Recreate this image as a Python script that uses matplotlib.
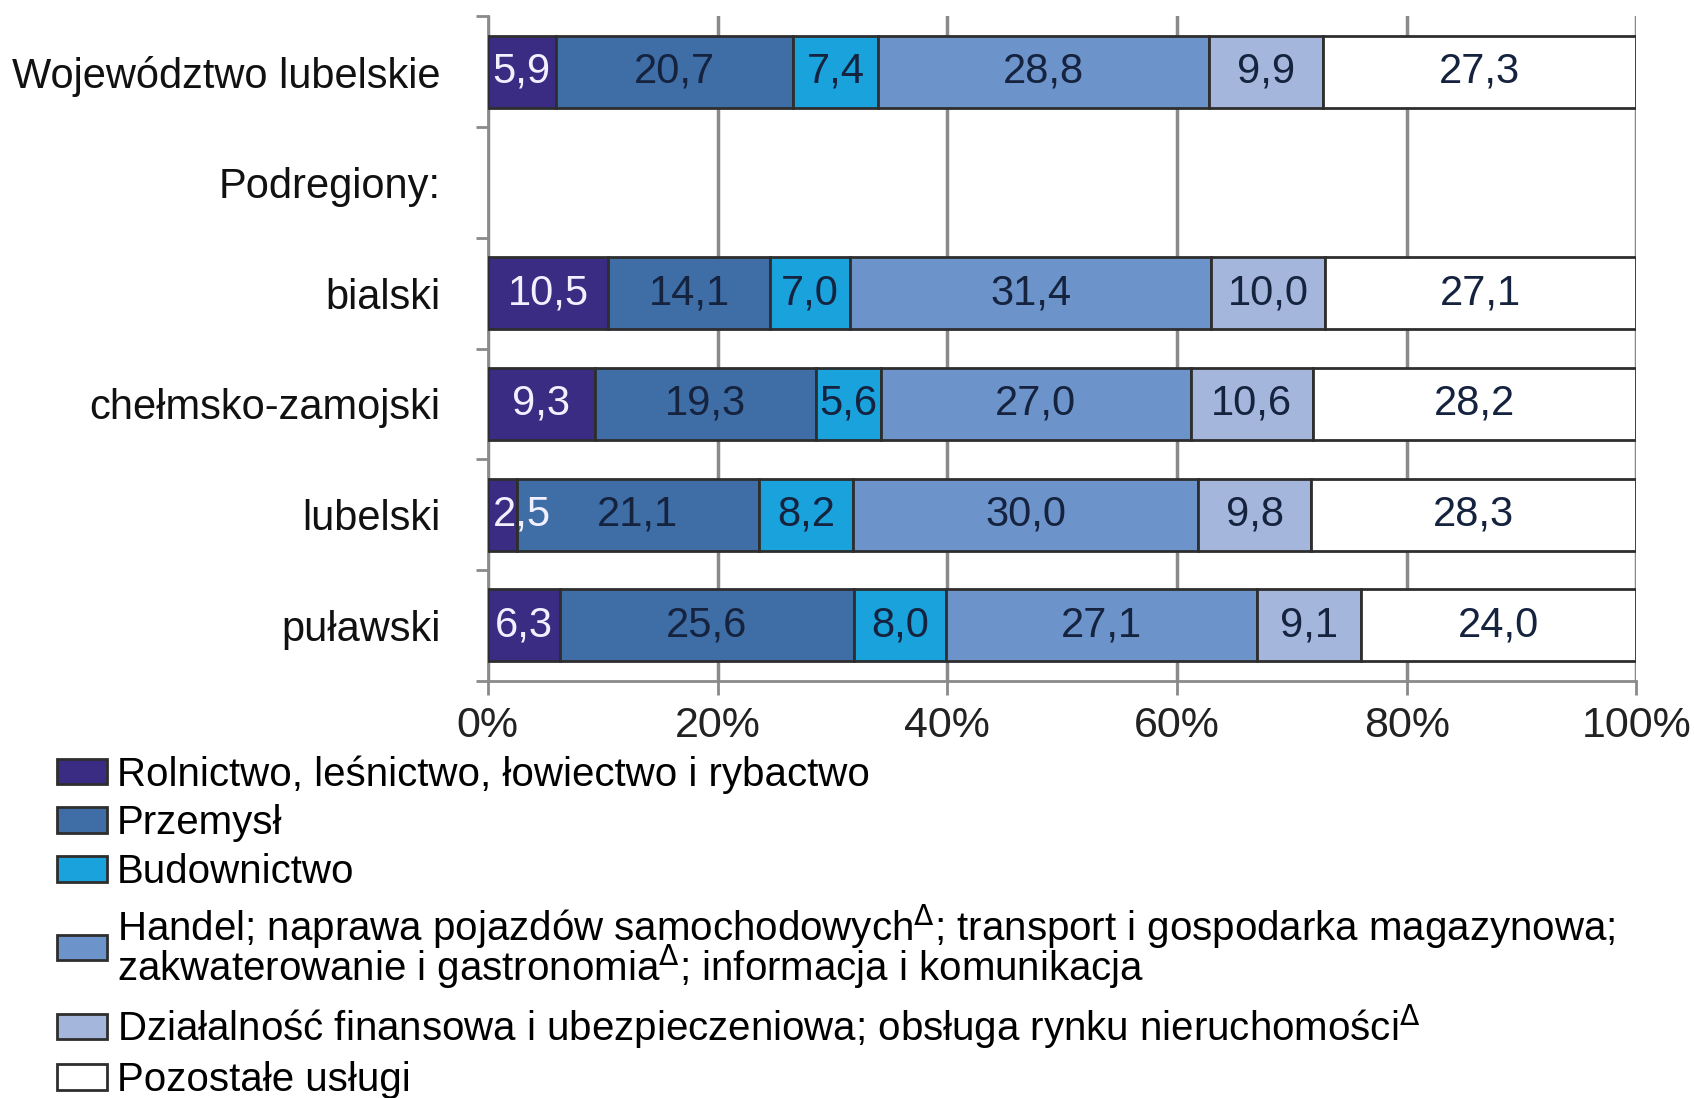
import numpy as np
import matplotlib
matplotlib.use("Agg")
import matplotlib.pyplot as plt
from matplotlib.patches import Patch

plt.rcParams['font.family'] = ['Liberation Sans', 'DejaVu Sans']

categories = ["Województwo lubelskie", "Podregiony:", "bialski",
              "chełmsko-zamojski", "lubelski", "puławski"]
series_names = [
    "Rolnictwo, leśnictwo, łowiectwo i rybactwo",
    "Przemysł",
    "Budownictwo",
    "Handel; naprawa pojazdów samochodowych$^{\\Delta}$; transport i gospodarka magazynowa;\n"
    "zakwaterowanie i gastronomia$^{\\Delta}$; informacja i komunikacja",
    "Działalność finansowa i ubezpieczeniowa; obsługa rynku nieruchomości$^{\\Delta}$",
    "Pozostałe usługi",
]
rolnictwo = [5.9, np.nan, 10.5, 9.3, 2.5, 6.3]
przemysl = [20.7, np.nan, 14.1, 19.3, 21.1, 25.6]
budownictwo = [7.4, np.nan, 7.0, 5.6, 8.2, 8.0]
handel = [28.8, np.nan, 31.4, 27.0, 30.0, 27.1]
finanse = [9.9, np.nan, 10.0, 10.6, 9.8, 9.1]
pozostale = [27.3, np.nan, 27.1, 28.2, 28.3, 24.0]
xticklabels = ["0%", "20%", "40%", "60%", "80%", "100%"]

colors = ["#3a2c82", "#3f6da6", "#19a2dc", "#6d93cb", "#a4b6dc", "#ffffff"]
text_colors = ["#f2f0ff", "#15233f", "#15233f", "#15233f", "#15233f", "#15233f"]

data = np.array([rolnictwo, przemysl, budownictwo, handel, finanse, pozostale], dtype=float)
totals = np.nansum(data, axis=0)
totals[totals == 0] = 1
pct = data / totals * 100

fig = plt.figure(figsize=(16.94, 10.98), dpi=100)
ax = fig.add_axes([0.288, 0.38, 0.678, 0.605])

y = np.arange(len(categories))
valid = ~np.isnan(data[0])
left = np.zeros(len(categories))
for i in range(len(series_names)):
    vals = np.nan_to_num(pct[i])
    ax.barh(y[valid], vals[valid], left=left[valid], height=0.65, color=colors[i],
            edgecolor="#2e2e2e", linewidth=2, label=series_names[i], zorder=3)
    for j in range(len(categories)):
        if np.isnan(data[i, j]):
            continue
        txt = f"{data[i, j]:.1f}".replace(".", ",")
        if vals[j] < 4:
            ax.text(left[j] + 0.4, y[j], txt, ha="left", va="center",
                    fontsize=30, color=text_colors[i], zorder=4)
        else:
            ax.text(left[j] + vals[j] / 2, y[j], txt, ha="center", va="center",
                    fontsize=30, color=text_colors[i], zorder=4)
    left += vals

ax.set_xlim(0, 100)
ax.set_ylim(5.5, -0.5)
ax.set_xticks(np.arange(0, 101, 20))
ax.set_xticklabels(xticklabels, fontsize=31, color="#222222")
ax.set_yticks(y)
ax.set_yticklabels(categories, fontsize=30, color="#111111")
ax.set_yticks(np.arange(-0.5, 6, 1), minor=True)
ax.tick_params(axis="y", which="major", length=0, pad=34)
ax.tick_params(axis="y", which="minor", length=9, width=2, color="#8a8a8a")
ax.tick_params(axis="x", which="major", length=10, width=2, color="#8a8a8a", pad=8)
ax.grid(axis="x", color="#8a8a8a", linewidth=2.5, zorder=0)
ax.set_axisbelow(True)
for s in ["top", "right"]:
    ax.spines[s].set_visible(False)
for s in ["left", "bottom"]:
    ax.spines[s].set_color("#8a8a8a")
    ax.spines[s].set_linewidth(2)

handles = [Patch(facecolor=colors[i], edgecolor="#2e2e2e", linewidth=2)
           for i in range(len(series_names))]
leg = fig.legend(handles, series_names, loc="upper left", bbox_to_anchor=(0.024, 0.327),
                 frameon=False, fontsize=29, handlelength=1.25, handleheight=0.6,
                 handletextpad=0.25, labelspacing=0.27, borderaxespad=0)
leg.get_texts()[3].set_linespacing(0.8)

fig.savefig("out.png", dpi=100, facecolor="white")
